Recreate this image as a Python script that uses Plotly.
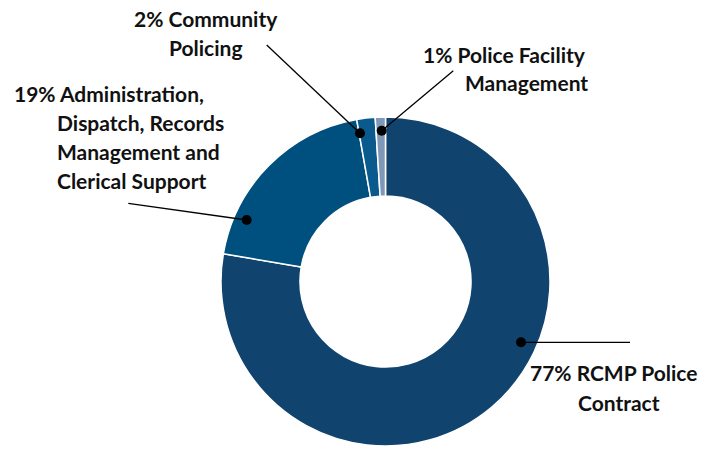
import plotly.graph_objects as go

categories = ["RCMP Police Contract",
              "Administration, Dispatch, Records Management and Clerical Support",
              "Community Policing",
              "Police Facility Management"]
values = [77.7, 19.5, 1.8, 1.0]
colors = ["#10446f", "#00507f", "#0b5a8e", "#7f98b8"]
label_lines = {
    "Community Policing": ["2% Community", "Policing"],
    "Police Facility Management": ["1% Police Facility", "Management"],
    "Administration": ["19% Administration,", "Dispatch, Records", "Management and", "Clerical Support"],
    "RCMP Police Contract": ["77% RCMP Police", "Contract"],
}

W, H = 712, 456
FONT = "Lato, sans-serif"


def px(x, y):
    return x / W, 1 - y / H


cx, cy, R = 385.5, 281.5, 164.5
fig = go.Figure(go.Pie(
    labels=categories, values=values, sort=False, direction="clockwise",
    rotation=0, hole=0.52, textinfo="none", hoverinfo="label+percent",
    marker=dict(colors=colors, line=dict(color="white", width=1.5)),
    domain=dict(x=[(cx - R) / W, (cx + R) / W], y=[1 - (cy + R) / H, 1 - (cy - R) / H]),
    showlegend=False,
))

shapes = []
annotations = []

# leader lines: (start, dot)
leaders = [
    ((266.7, 45), (360, 133.3)),
    ((453.3, 70.7), (381.7, 130.7)),
    ((128.3, 203.3), (246.7, 220)),
    ((630, 342.3), (521, 342.3)),
]
for (x0, y0), (x1, y1) in leaders:
    a0, b0 = px(x0, y0)
    a1, b1 = px(x1, y1)
    shapes.append(dict(type="line", xref="paper", yref="paper", x0=a0, y0=b0, x1=a1, y1=b1,
                       line=dict(color="black", width=1.3)))
    r = 5
    shapes.append(dict(type="circle", xref="paper", yref="paper",
                       x0=(x1 - r) / W, x1=(x1 + r) / W, y0=1 - (y1 + r) / H, y1=1 - (y1 - r) / H,
                       fillcolor="black", line=dict(width=0)))

font = dict(family=FONT, size=21, color="#111111")


def line(text, x, y, xanchor="center"):
    a, b = px(x, y)
    annotations.append(dict(text="<b>" + text + "</b>", x=a, y=b, xref="paper", yref="paper",
                            showarrow=False, xanchor=xanchor, yanchor="middle", font=font))


L = label_lines
line(L["Community Policing"][0], 206, 19)
line(L["Community Policing"][1], 206, 47)
line(L["Police Facility Management"][0], 588, 54, "right")
line(L["Police Facility Management"][1], 590, 82, "right")
line(L["Administration"][0], 12, 93, "left")
for i, t in enumerate(L["Administration"][1:]):
    line(t, 55, 122 + 29 * i, "left")
line(L["RCMP Police Contract"][0], 614, 372)
line(L["RCMP Police Contract"][1], 619, 402)

fig.update_layout(width=W, height=H, margin=dict(l=0, r=0, t=0, b=0),
                  paper_bgcolor="white", plot_bgcolor="white",
                  shapes=shapes, annotations=annotations)

fig.write_html("out.html", config={"displayModeBar": False},
               post_script="document.body.style.margin='0';")
